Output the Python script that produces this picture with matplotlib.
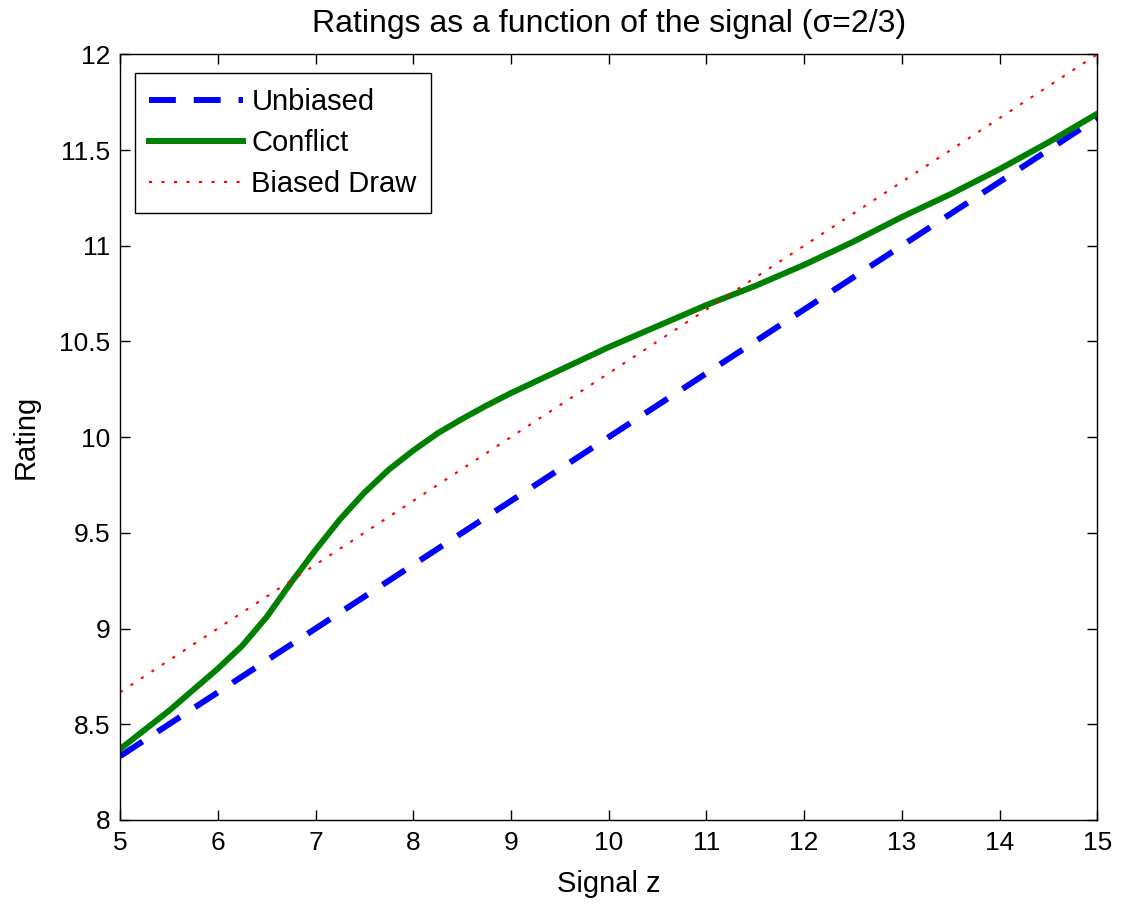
import numpy as np
import matplotlib
matplotlib.use('Agg')
import matplotlib.pyplot as plt

# signal grid and rating curves
z_line = [5, 15]
unbiased = [8.333, 11.667]
biased_draw = [8.667, 12.0]

z_conflict = [5, 5.25, 5.5, 5.75, 6, 6.25, 6.5, 6.75, 7, 7.25, 7.5, 7.75, 8, 8.25, 8.5, 8.75,
              9, 9.5, 10, 10.5, 11, 11.5, 12, 12.5, 13, 13.5, 14, 14.5, 15]
conflict = [8.37, 8.47, 8.57, 8.68, 8.79, 8.91, 9.06, 9.24, 9.41, 9.57, 9.71, 9.83, 9.93,
            10.02, 10.095, 10.165, 10.23, 10.35, 10.47, 10.58, 10.69, 10.79, 10.90, 11.02,
            11.15, 11.27, 11.40, 11.54, 11.69]

x_ticks = list(range(5, 16))
y_ticks = [8, 8.5, 9, 9.5, 10, 10.5, 11, 11.5, 12]
y_labels = ['8', '8.5', '9', '9.5', '10', '10.5', '11', '11.5', '12']

plt.rcParams['font.family'] = ['Liberation Sans', 'DejaVu Sans']

fig = plt.figure(figsize=(11.22, 9.05), dpi=100)
ax = fig.add_axes([0.107, 0.094, 0.871, 0.846])

ax.plot(z_line, unbiased, color='blue', lw=4.3, dashes=(4.5, 3), label='Unbiased')
ax.plot(z_conflict, conflict, color='green', lw=4.3, label='Conflict')
ax.plot(z_line, biased_draw, color='red', lw=1.5, dashes=(1.5, 4.5), label='Biased Draw')

ax.set_xlim(5, 15)
ax.set_ylim(8, 12)
ax.set_xticks(x_ticks)
ax.set_yticks(y_ticks)
ax.set_yticklabels(y_labels)
ax.tick_params(direction='in', length=7, width=1, top=True, right=True,
               labelsize=19)
ax.tick_params(axis='x', pad=8)
ax.tick_params(axis='y', pad=7)
for s in ax.spines.values():
    s.set_linewidth(1)

ax.set_xlabel('Signal z', fontsize=21, labelpad=11)
ax.set_ylabel('Rating', fontsize=21, labelpad=14)
ax.set_title('Ratings as a function of the signal (\u03c3=2/3)', fontsize=23, pad=16)

leg = ax.legend(loc='upper left', bbox_to_anchor=(0.015, 0.975), fontsize=21,
                fancybox=False, edgecolor='black', framealpha=1,
                handlelength=3.2, handletextpad=0.3, borderpad=0.5,
                labelspacing=0.45, borderaxespad=0)
leg.get_frame().set_linewidth(1)

fig.savefig('out.png', dpi=100)
